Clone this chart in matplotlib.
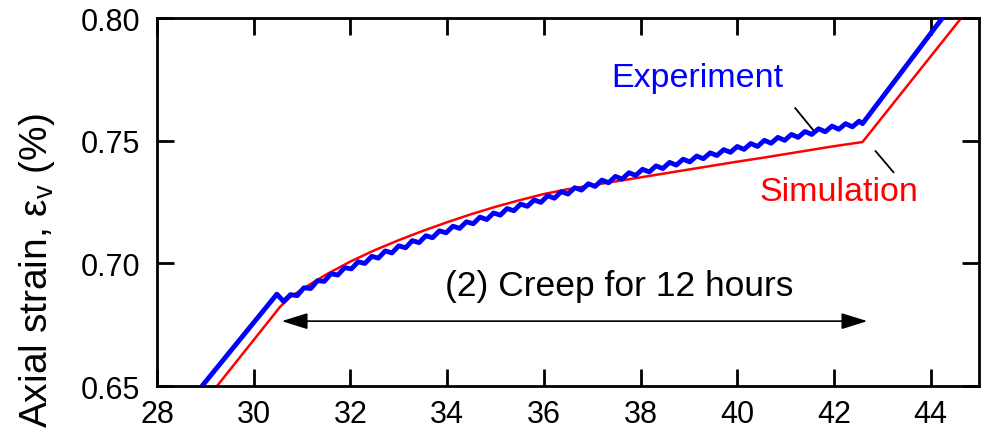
import numpy as np
import matplotlib
matplotlib.use("Agg")
import matplotlib.pyplot as plt

plt.rcParams['font.family'] = ['Liberation Sans', 'DejaVu Sans']
plt.rcParams['mathtext.fontset'] = 'custom'
plt.rcParams['mathtext.rm'] = 'Liberation Sans'
plt.rcParams['mathtext.it'] = 'Liberation Sans'

# Experiment: loading, 12 h creep (with oscillation), reloading
exp_time = [28.70, 28.93, 30.48,
            30.62, 30.76, 30.90, 31.04, 31.18, 31.32, 31.46, 31.60, 31.74, 31.88,
            32.02, 32.16, 32.30, 32.44, 32.58, 32.72, 32.86, 33.00, 33.14, 33.28,
            33.42, 33.56, 33.70, 33.84, 33.98, 34.12, 34.26, 34.40, 34.54, 34.68,
            34.82, 34.96, 35.10, 35.24, 35.38, 35.52, 35.66, 35.80, 35.94, 36.08,
            36.22, 36.36, 36.50, 36.64, 36.78, 36.92, 37.06, 37.20, 37.34, 37.48,
            37.62, 37.76, 37.90, 38.04, 38.18, 38.32, 38.46, 38.60, 38.74, 38.88,
            39.02, 39.16, 39.30, 39.44, 39.58, 39.72, 39.86, 40.00, 40.14, 40.28,
            40.42, 40.56, 40.70, 40.84, 40.98, 41.12, 41.26, 41.40, 41.54, 41.68,
            41.82, 41.96, 42.10, 42.24, 42.38, 42.52,
            42.59, 44.24, 44.60]
exp_strain = [0.6444, 0.6500, 0.6875,
              0.6845, 0.6873, 0.6869, 0.6901, 0.6898, 0.6930, 0.6927, 0.6958, 0.6953, 0.6983,
              0.6978, 0.7007, 0.7000, 0.7029, 0.7022, 0.7051, 0.7043, 0.7072, 0.7064, 0.7093,
              0.7085, 0.7113, 0.7105, 0.7133, 0.7125, 0.7152, 0.7143, 0.7170, 0.7162, 0.7189,
              0.7179, 0.7206, 0.7197, 0.7224, 0.7215, 0.7242, 0.7233, 0.7259, 0.7249, 0.7276,
              0.7266, 0.7293, 0.7283, 0.7309, 0.7299, 0.7325, 0.7314, 0.7340, 0.7329, 0.7355,
              0.7344, 0.7370, 0.7359, 0.7384, 0.7373, 0.7398, 0.7387, 0.7412, 0.7401, 0.7425,
              0.7414, 0.7438, 0.7427, 0.7451, 0.7440, 0.7464, 0.7453, 0.7477, 0.7465, 0.7489,
              0.7477, 0.7502, 0.7490, 0.7514, 0.7502, 0.7526, 0.7514, 0.7538, 0.7526, 0.7549,
              0.7537, 0.7560, 0.7547, 0.7570, 0.7557, 0.7580,
              0.7570, 0.8000, 0.8094]

# Simulation
sim_time = [29.00, 29.24, 30.40, 30.54, 30.75, 31.00, 31.50, 32.00, 32.50, 33.00,
            33.50, 34.00, 34.50, 35.00, 35.50, 36.00, 36.50, 37.00, 37.50, 38.00,
            38.50, 39.00, 39.50, 40.00, 40.50, 41.00, 41.50, 42.00, 42.59, 44.63, 45.00]
sim_strain = [0.6440, 0.6500, 0.6787, 0.6822, 0.6862, 0.6895, 0.6955, 0.7008, 0.7054, 0.7095,
              0.7133, 0.7168, 0.7201, 0.7231, 0.7258, 0.7283, 0.7303, 0.7319, 0.7335, 0.7351,
              0.7367, 0.7383, 0.7399, 0.7415, 0.7430, 0.7446, 0.7462, 0.7478, 0.7495, 0.8000, 0.8092]

creep_start, creep_end, arrow_y = 30.58, 42.69, 0.6765

fig = plt.figure(figsize=(9.81, 4.35), dpi=100)
ax = fig.add_axes([0.160, 0.110, 0.838, 0.846])

ax.plot(sim_time, sim_strain, color='#ff0000', lw=1.8, zorder=2)
ax.plot(exp_time, exp_strain, color='#0000ff', lw=3.5, solid_joinstyle='round', zorder=3)

ax.set_xlim(28, 45)
ax.set_ylim(0.65, 0.80)
ax.set_xticks(np.arange(28, 45, 2))
ax.set_yticks([0.65, 0.70, 0.75, 0.80])
ax.set_yticklabels(['0.65', '0.70', '0.75', '0.80'])

ax.tick_params(direction='in', length=12, width=2, labelsize=22,
               top=True, right=True)
ax.tick_params(axis='x', pad=9)
ax.tick_params(axis='y', pad=12)
for s in ax.spines.values():
    s.set_linewidth(2)

ax.set_ylabel(r'Axial strain, $\mathregular{\varepsilon_v}$ (%)', fontsize=28,
              va='baseline')
ax.yaxis.set_label_coords(-0.134, 0.318)

# double arrow spanning the creep stage
ax.annotate('', xy=(creep_end, arrow_y), xytext=(creep_start, arrow_y),
            arrowprops=dict(arrowstyle='<|-|>,head_length=0.8,head_width=0.25',
                            mutation_scale=20, lw=1.2, color='k',
                            shrinkA=0, shrinkB=0))
ax.text(33.95, 0.6871, '(2) Creep for 12 hours', fontsize=25.5, ha='left', va='baseline')

ax.text(37.40, 0.7723, 'Experiment', color='#0000ff', fontsize=24.5, ha='left', va='baseline')
ax.plot([41.20, 41.57], [0.7633, 0.7544], color='k', lw=1.3)
ax.text(40.46, 0.7258, 'Simulation', color='#ff0000', fontsize=24.5, ha='left', va='baseline')
ax.plot([42.86, 43.23], [0.7458, 0.7372], color='k', lw=1.3)

fig.savefig('out.png', dpi=100)
